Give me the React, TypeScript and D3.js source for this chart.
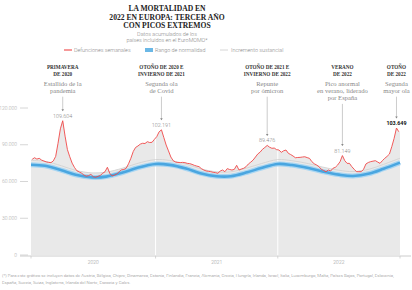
import React from "react";
import * as d3 from "d3";

// weekly deaths, ISO weeks 2020-W01 .. 2022-W52
const deaths2020 = [
  78100, 79400, 78300, 78900, 77500, 76700, 76000, 75600, 75400, 76800,
  80500, 91200, 103000, 109604, 97000, 86000, 80200, 75000, 71500, 68800,
  67800, 66800, 65300, 64300, 64800, 65800, 63900, 63400, 64200, 65000,
  66700, 68000, 71600, 66700, 64500, 65200, 66100, 68000, 69500, 69800,
  70800, 74500, 79000, 84500, 87800, 89000, 90500, 91200, 91000, 92500,
  91800, 92000, 94400,
];
const deaths2021 = [
  96600, 100500, 102191, 96000, 89800, 85000, 80000, 77000, 75900, 75500,
  75400, 75600, 75400, 74800, 74600, 74000, 73200, 72600, 72100, 70500,
  69400, 68600, 68300, 68000, 67500, 67200, 66700, 68500, 69400, 68000,
  70500, 69800, 69400, 69900, 73200, 69400, 70200, 70800, 72100, 74300,
  75800, 77500, 80000, 82500, 84000, 86300, 87800, 89476, 88000, 87100,
  87300, 86000,
];
const deaths2022 = [
  85700, 83800, 85100, 85700, 83000, 82000, 80800, 79400, 79600, 79700,
  80000, 80200, 79500, 78900, 76200, 74500, 73500, 72100, 70000, 69000,
  68000, 69400, 68600, 70800, 71600, 73500, 76200, 81149, 77000, 74800,
  74800, 72100, 70000, 68000, 68000, 68000, 70000, 74300, 75500, 76200,
  76600, 77000, 75900, 74800, 77000, 78900, 80500, 82400, 88400, 95200,
  103649, 100600,
];
const deaths = [...deaths2020, ...deaths2021, ...deaths2022];

// expected range (centre) and substantial-increase threshold, sampled by week
const normalWeeks = [0, 6, 13, 19, 26, 32, 39, 45, 53, 59, 66, 72, 79, 85, 92, 98, 105, 111, 118, 124, 131, 137, 144, 150, 157];
const normalCentre = [
  73700, 72800, 69200, 65500, 63400, 64000, 67300, 71000, 74300, 73600,
  70600, 66800, 64300, 64300, 67500, 71000, 74300, 73400, 71000, 68200,
  65600, 64500, 66500, 70400, 75400,
];
const substantial = [
  77200, 76400, 72800, 69100, 67000, 67600, 70900, 74600, 77900, 77200,
  74200, 70400, 67900, 67900, 71100, 74600, 77900, 77000, 74600, 71800,
  69200, 68100, 70100, 74000, 79000,
];

const yearStarts = [0, 53, 105, 157];
const yearLabels = ["2020", "2021", "2022"];
const yTicks = [0, 30000, 60000, 90000, 120000];

// week = index into deaths of the peak each note points at
const annotations = [
  { head: ["PRIMAVERA", "DE 2020"], desc: ["Estallido de la", "pandemia"], week: 13 },
  { head: ["OTOÑO DE 2020 E", "INVIERNO DE 2021"], desc: ["Segunda ola", "de Covid"], week: 55 },
  { head: ["OTOÑO DE 2021 E", "INVIERNO DE 2022"], desc: ["Repunte", "por ómicron"], week: 100 },
  { head: ["VERANO", "DE 2022"], desc: ["Pico anormal", "en verano, liderado", "por España"], week: 132 },
  { head: ["OTOÑO", "DE 2022"], desc: ["Segunda", "mayor ola"], week: 155 },
];

const legendItems = ["Defunciones semanales", "Rango de normalidad", "Incremento sustancial"];

const footnote = [
  "(*) Para este gráfico se incluyen datos de Austria, Bélgica, Chipre, Dinamarca, Estonia, Finlandia, Francia, Alemania, Grecia, Hungría, Irlanda, Israel, Italia, Luxemburgo, Malta, Países Bajos, Portugal, Eslovenia,",
  "España, Suecia, Suiza, Inglaterra, Irlanda del Norte, Escocia y Gales.",
];

const fmt = (v: number) => d3.format(",")(v).replace(/,/g, ".");

const SANS = "Roboto, 'Liberation Sans', sans-serif";
const SERIF = "'Liberation Serif', 'DejaVu Serif', serif";

export default function App() {
  const width = 412;
  const height = 290;

  const x = d3.scaleLinear().domain([0, 157]).range([31, 400]);
  const y = d3.scaleLinear().domain([0, 120000]).range([255, 108]);

  const pts: [number, number][] = deaths.map((d, i) => [i + 0.5, d]);
  const thresholdAt = d3.scaleLinear().domain(normalWeeks).range(substantial);

  // grey fill up to whichever is higher: deaths or threshold
  const fillPts: [number, number][] = [
    [0, Math.max(deaths[0], thresholdAt(0))],
    ...pts.map(([w, d]) => [w, Math.max(d, thresholdAt(w))] as [number, number]),
    [157, Math.max(deaths[deaths.length - 1], thresholdAt(157))],
  ];
  const area = d3
    .area<[number, number]>()
    .x((d) => x(d[0]))
    .y0(y(0))
    .y1((d) => y(d[1]))
    .curve(d3.curveMonotoneX);

  const line = d3
    .line<[number, number]>()
    .x((d) => x(d[0]))
    .y((d) => y(d[1]))
    .curve(d3.curveLinear);

  const smooth = d3
    .line<[number, number]>()
    .x((d) => x(d[0]))
    .y((d) => y(d[1]))
    .curve(d3.curveCatmullRom);

  const normalPts = normalWeeks.map((w, i) => [w, normalCentre[i]] as [number, number]);
  const substPts = normalWeeks.map((w, i) => [w, substantial[i]] as [number, number]);

  return (
    <>
      <style>{"body{margin:0}"}</style>
      <svg width={width} height={height} style={{ display: "block", background: "#fff" }}>
        {/* title */}
        <g fontFamily={SERIF} fontWeight="bold" fontSize={7.6} fill="#222" textAnchor="middle">
          <text x={167} y={11}>LA MORTALIDAD EN</text>
          <text x={167} y={19.5}>2022 EN EUROPA: TERCER AÑO</text>
          <text x={167} y={28}>CON PICOS EXTREMOS</text>
        </g>
        <g fontFamily={SANS} fontWeight={300} fontSize={5.4} fill="#888" textAnchor="middle">
          <text x={167} y={36}>Datos acumulados de los</text>
          <text x={167} y={41.5}>países incluidos en el EuroMOMO*</text>
        </g>

        {/* legend */}
        <g fontFamily={SANS} fontWeight={300} fontSize={5.4} fill="#888">
          <line x1={64} x2={72} y1={50} y2={50} stroke="#f05555" strokeWidth={1.2} />
          <text x={74} y={52}>{legendItems[0]}</text>
          <rect x={145} y={48} width={8} height={4} fill="#6bb8e6" />
          <text x={155} y={52}>{legendItems[1]}</text>
          <line x1={220} x2={228} y1={50} y2={50} stroke="#d6d6d6" strokeWidth={1} />
          <text x={231} y={52}>{legendItems[2]}</text>
        </g>

        {/* plot */}
        <path d={area(fillPts) ?? ""} fill="#e9e9e9" />
        {yearStarts.slice(1, 3).map((w) => (
          <line key={w} x1={x(w)} x2={x(w)} y1={y(0)} y2={y(120000)} stroke="#fff" strokeWidth={1} />
        ))}
        <path d={smooth(substPts) ?? ""} fill="none" stroke="#d2d2d2" strokeWidth={0.9} />
        <path d={smooth(normalPts) ?? ""} fill="none" stroke="#a9d6f2" strokeWidth={5} />
        <path d={smooth(normalPts) ?? ""} fill="none" stroke="#4aa6e0" strokeWidth={2.6} />
        <path d={line(pts) ?? ""} fill="none" stroke="#f04848" strokeWidth={0.9} strokeLinejoin="round" />

        {/* y axis */}
        <g fontFamily={SANS} fontWeight={300} fontSize={5} fill="#aaa" textAnchor="end">
          {yTicks.map((t) => (
            <g key={t}>
              <line x1={20} x2={28} y1={y(t)} y2={y(t)} stroke="#ccc" strokeWidth={0.8} />
              <text x={17} y={y(t) + 1.7}>{t === 0 ? "0" : fmt(t)}</text>
            </g>
          ))}
        </g>

        {/* x axis */}
        <line x1={20} x2={411} y1={y(0) + 1} y2={y(0) + 1} stroke="#ccc" strokeWidth={1} />
        {yearStarts.map((w) => (
          <line key={w} x1={x(w)} x2={x(w)} y1={y(0) + 1} y2={y(0) + 3.5} stroke="#ccc" strokeWidth={0.8} />
        ))}
        <g fontFamily={SANS} fontWeight={300} fontSize={5} fill="#999" textAnchor="middle">
          {yearLabels.map((l, i) => (
            <text key={l} x={(x(yearStarts[i]) + x(yearStarts[i + 1])) / 2} y={263.5}>
              {l}
            </text>
          ))}
        </g>

        {/* annotations */}
        {annotations.map((a, k) => {
          const cx = x(a.week + 0.5);
          const peakY = y(deaths[a.week]);
          const descEnd = 85.5 + (a.desc.length - 1) * 7.2;
          const last = k === annotations.length - 1;
          return (
            <g key={k} textAnchor="middle">
              <g fontFamily={SERIF} fontWeight="bold" fontSize={5.2} fill="#333">
                {a.head.map((h, j) => (
                  <text key={j} x={cx} y={69 + j * 7}>{h}</text>
                ))}
              </g>
              <g fontFamily={SERIF} fontSize={6.6} fill="#888">
                {a.desc.map((h, j) => (
                  <text key={j} x={cx} y={85.5 + j * 7.2}>{h}</text>
                ))}
              </g>
              <line x1={cx} x2={cx} y1={descEnd + 4} y2={peakY - 10} stroke="#aaa" strokeWidth={0.6} />
              <path
                d={`M${cx - 1.3},${peakY - 11.5} L${cx + 1.3},${peakY - 11.5} L${cx},${peakY - 9.5} Z`}
                fill="#888"
              />
              <text
                x={cx}
                y={peakY - 3}
                fontFamily={SANS}
                fontSize={5.4}
                fontWeight={last ? 700 : 300}
                fill={last ? "#111" : "#888"}
              >
                {fmt(deaths[a.week])}
              </text>
            </g>
          );
        })}

        {/* footnote */}
        <g fontFamily={SANS} fontWeight={300} fontSize={4.4} fill="#888">
          <text x={2} y={277}>{footnote[0]}</text>
          <text x={2} y={284}>{footnote[1]}</text>
        </g>
      </svg>
    </>
  );
}
